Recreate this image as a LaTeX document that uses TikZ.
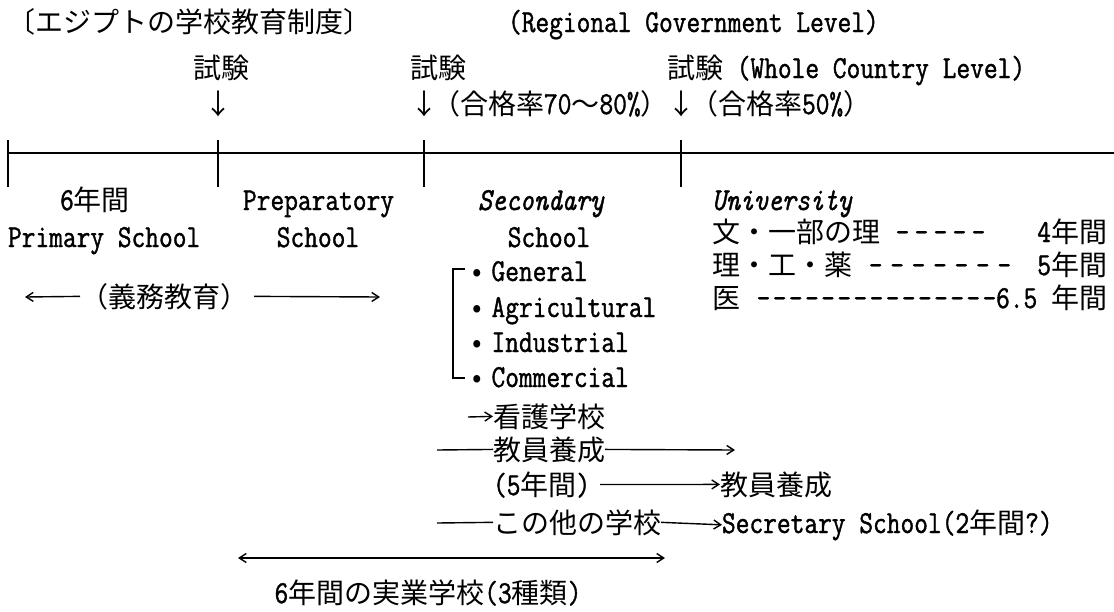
\documentclass[tikz,border=0pt]{standalone}
\usepackage{fontspec}
\setmainfont{Latin Modern Mono}[FakeStretch=0.8333,FakeBold=1.2,Ligatures=TeXOff]
\newfontfamily\cjkf{Noto Sans CJK JP}
\usetikzlibrary{arrows.meta}
\newcommand{\hyph}[2]{\hbox to #1pt{\xleaders\hbox to #2pt{\hss-\hss}\hfill}}
\begin{document}
\begin{tikzpicture}[x=1pt,y=-1pt,
  txt/.style={inner sep=0pt,outer sep=0pt,font=\fontsize{32}{36}\selectfont},
  tl/.style={txt,anchor=base west},
  tc/.style={txt,anchor=base},
  tr/.style={txt,anchor=base east},
  rule/.style={line width=1.6pt},
  arr/.style={line width=1.4pt,-{Straight Barb[length=7pt,width=9pt]}},
  darr/.style={line width=1.4pt,{Straight Barb[length=7pt,width=9pt]}-{Straight Barb[length=7pt,width=9pt]}},
  ln/.style={line width=1.4pt}]
\useasboundingbox (0,0) rectangle (1114,611);
\newcommand{\J}{\fontsize{28}{34}\selectfont\cjkf}
% header
\node[tl] (title) at (8,32) {{\J 〔エジプトの学校教育制度〕}};
\node[tl] (regional) at (508,32) {(Regional Government Level)};
\node[tl] (exam1) at (193,78) {{\J 試験}};
\node[tl] (exam2) at (410,78) {{\J 試験}};
\node[tl] (exam3) at (667,78) {{\J 試験} (Whole Country Level)};
\node[tc] (d1) at (218,114) {{\J ↓}};
\node[tc] (d2) at (424,114) {{\J ↓}};
\node[tl] (pass1) at (432,114) {{\J （合格率}70{\J ～}80\%{\J ）}};
\node[tc] (d3) at (681,114) {{\J ↓}};
\node[tl] (pass2) at (690,114) {{\J （合格率}50\%{\J ）}};
% time line
\coordinate (L0) at (8,153);
\coordinate (L1) at (1114,153);
\draw[rule] (L0) -- (L1);
\foreach \x in {8,218,424,681} \draw[rule] (\x,140) -- (\x,187);
% stages
\node[tc] (y6) at (95,210) {6{\J 年間}};
\node[tl] (prim) at (8,247) {Primary School};
\node[tl] (prep) at (243,210) {Preparatory};
\node[tc] (prep2) at (318,247) {School};
\node[tl] (sec) at (478,210) {\itshape Secondary};
\node[tc] (sec2) at (549,247) {School};
\node[tl] (uni) at (712,210) {\itshape University};
\node[tl] (u1a) at (712,242) {{\J 文・一部の理}};
\node[tl] (u1b) at (893,242) {\hyph{95}{19}};
\node[tr] (u1c) at (1107,242) {4{\J 年間}};
\node[tl] (u2a) at (712,275) {{\J 理・工・薬}};
\node[tl] (u2b) at (865,275) {\hyph{150}{21.4}};
\node[tr] (u2c) at (1107,275) {5{\J 年間}};
\node[tl] (u3a) at (712,308) {{\J 医}};
\node[tl] (u3b) at (755,308) {\hyph{243}{15.2}};
\node[tr] (u3c) at (1107,308) {6.5 {\J 年間}};
% secondary tracks
\node[tl] (gen) at (472,281) {{\J •}\hspace{10pt}General};
\node[tl] (agr) at (472,317) {{\J •}\hspace{10pt}Agricultural};
\node[tl] (ind) at (472,352) {{\J •}\hspace{10pt}Industrial};
\node[tl] (com) at (472,387) {{\J •}\hspace{10pt}Commercial};
\draw[ln] (465,269) -- (453,269) -- (453,378) -- (465,378);
% compulsory
\node[tl] (edu) at (80,307) {{\J （義務教育）}};
\coordinate (eduL) at (25,297);
\coordinate (eduR) at (380,297);
\draw[arr] (edu.west) -- (eduL);
\draw[arr] ([xshift=6pt]edu.east) -- (eduR);
% other schools
\node[tl] (nurse) at (493,427) {{\J 看護学校}};
\coordinate (nurseL) at (468,417);
\draw[arr] (nurseL) -- (nurse.west);
\node[tl] (teach) at (493,460) {{\J 教員養成}};
\coordinate (teachL) at (437,450);
\coordinate (teachR) at (735,450);
\draw[ln] (teachL) -- (teach.west);
\draw[arr] (teach.east) -- (teachR);
\node[tl] (five) at (493,495) {(5{\J 年間})};
\node[tl] (teach2) at (720,495) {{\J 教員養成}};
\draw[arr] ([xshift=10pt]five.east) -- (teach2.west);
\node[tl] (other) at (493,533) {{\J この他の学校}};
\coordinate (otherL) at (437,523);
\node[tl] (secr) at (722,533) {Secretary School(2{\J 年間}?)};
\draw[ln] (otherL) -- (other.west);
\draw[arr] (other.east) -- (secr.west);
% vocational
\coordinate (vL) at (238,558);
\coordinate (vR) at (665,558);
\draw[darr] (vL) -- (vR);
\node[tc] (voc) at (428,603) {6{\J 年間の実業学校}(3{\J 種類})};
\end{tikzpicture}
\end{document}
